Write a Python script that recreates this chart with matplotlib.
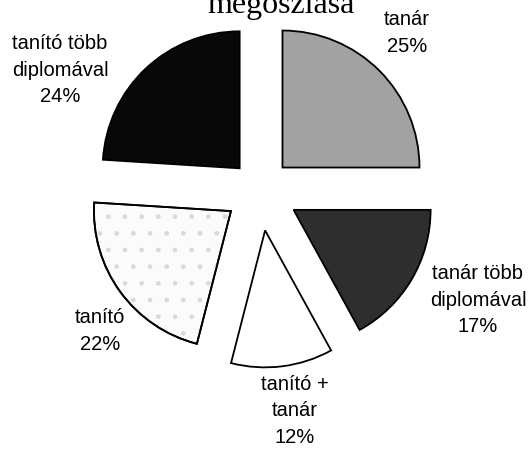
import matplotlib
matplotlib.use("Agg")
import matplotlib.pyplot as plt
from matplotlib.patches import Wedge

# data
categories = ["tanár", "tanár több\ndiplomával", "tanító +\ntanár", "tanító", "tanító több\ndiplomával"]
values = [25, 17, 12, 22, 24]
title_text = "megoszlása"

# style
colors = ["#a2a2a2", "#2e2e2e", "#ffffff", "#fbfbfb", "#080808"]
R = 137
explode_frac = [0.232, 0.285, 0.297, 0.262, 0.217]
label_pos = [(407, 33), (478, 300), (295, 411), (100, 331), (60, 70)]

W, H = 531, 449
fig = plt.figure(figsize=(W / 100, H / 100), dpi=100)
ax = fig.add_axes([0, 0, 1, 1])

cx, cy = 260, H - 190
wedges, _ = ax.pie(values, colors=colors, explode=[e * R for e in explode_frac],
                   startangle=90, counterclock=False,
                   radius=R, center=(cx, cy), frame=True,
                   wedgeprops=dict(edgecolor="black", linewidth=1.3))
ax.set_xlim(0, W)
ax.set_ylim(0, H)
ax.set_aspect("equal")
ax.axis("off")

# light stipple on the "tanító" slice
w = wedges[3]
st = Wedge(w.center, w.r, w.theta1, w.theta2, facecolor="none", edgecolor="#dadada",
           linewidth=0, hatch=".", zorder=w.get_zorder() + 0.1)
ax.add_patch(st)
outline = Wedge(w.center, w.r, w.theta1, w.theta2, facecolor="none", edgecolor="black",
                linewidth=1.3, zorder=w.get_zorder() + 0.2)
ax.add_patch(outline)

for (x, y), cat, v in zip(label_pos, categories, values):
    ax.text(x, H - y, f"{cat}\n{v}%", ha="center", va="center", fontsize=14.5,
            family="Liberation Sans", linespacing=1.5)

ax.text(281, H - 13, title_text, ha="center", va="baseline", fontsize=23,
        family="Liberation Serif")

fig.savefig("out.png", dpi=100)
